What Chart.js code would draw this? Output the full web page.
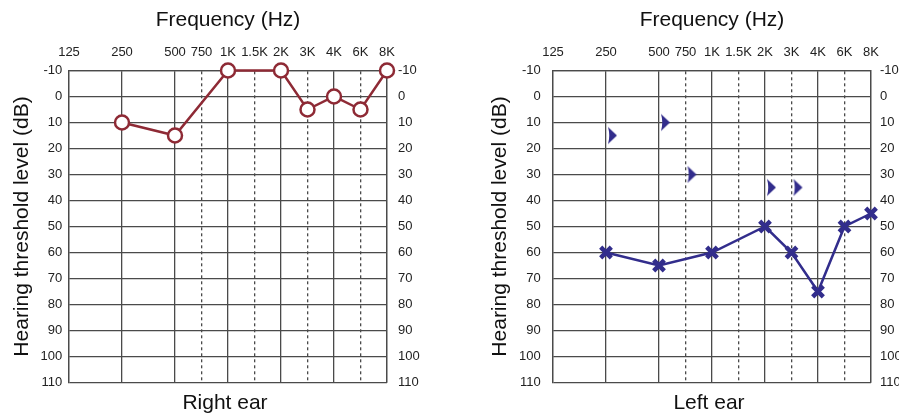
<!DOCTYPE html>
<html>
<head>
<meta charset="utf-8">
<script src="https://cdn.jsdelivr.net/npm/chart.js@4.4.1/dist/chart.umd.min.js"></script>
<style>
  html, body { margin: 0; padding: 0; background: #fff; overflow: hidden; width: 899px; height: 418px; }
  canvas { position: absolute; top: 0; }
  #right { left: 0; }
  #left { left: 484px; }
</style>
</head>
<body>
<canvas id="right" width="450" height="418"></canvas>
<canvas id="left" width="450" height="418"></canvas>
<script>
// audiogram data (dB HL), one entry per frequency, null = not tested
const freqs = [125, 250, 500, 750, 1000, 1500, 2000, 3000, 4000, 6000, 8000];
const freqLabels = ['125', '250', '500', '750', '1K', '1.5K', '2K', '3K', '4K', '6K', '8K'];
const dbTicks = [-10, 0, 10, 20, 30, 40, 50, 60, 70, 80, 90, 100, 110];
const rightAir = [null, 10, 15, null, -10, null, -10, 5, 0, 5, -10];
const leftAir = [null, 60, 65, null, 60, null, 50, 60, 75, 50, 45];
const leftBone = [null, 15, 10, 30, null, null, 35, 35, null, null, null];

const FONT = '"Liberation Sans", Arial, Helvetica, sans-serif';
const GRID = '#4a4a4a';
const RED = '#8e2a35';
const BLUE = '#322d8c';

// octaves two slots apart, half-octaves in the middle
function slot(f) { return Math.round(2 * Math.log2(f / 125)); }

function points(vals) {
  return freqs.map((f, i) => ({ x: slot(f), y: vals[i] })).filter(p => p.y !== null);
}

// bone conduction ">" symbol, sits just right of the frequency line
function chevron(color) {
  const c = document.createElement('canvas');
  c.width = 28; c.height = 22;
  const g = c.getContext('2d');
  g.fillStyle = color;
  g.beginPath();
  g.moveTo(16, 2.5);
  g.lineTo(25, 11);
  g.lineTo(16, 19.5);
  g.quadraticCurveTo(18.5, 11, 16, 2.5);
  g.fill();
  return c;
}

function audiogram(id, ear, datasets, pad) {
  const tickFont = { family: FONT, size: 13 };
  const titleFont = { family: FONT, size: 21, weight: 'normal' };
  const yTicks = s => { s.ticks = dbTicks.map(v => ({ value: v })); };
  return new Chart(document.getElementById(id), {
    type: 'line',
    data: { datasets: datasets },
    options: {
      responsive: false,
      animation: false,
      events: [],
      layout: { padding: 0 },
      plugins: {
        legend: { display: false },
        tooltip: { enabled: false },
        title: {
          display: true, position: 'bottom', text: ear, color: '#111',
          font: titleFont, padding: { top: 7.9, bottom: 2.4 }
        }
      },
      scales: {
        x: {
          type: 'linear', position: 'top', min: 0, max: 12,
          afterBuildTicks: s => { s.ticks = freqs.map(f => ({ value: slot(f) })); },
          afterFit: s => { s.height = 70.5; },
          ticks: {
            autoSkip: false, maxRotation: 0, minRotation: 0, padding: 10.5,
            color: '#222', font: tickFont,
            callback: (v, i) => freqLabels[i]
          },
          grid: { color: GRID, lineWidth: 1.3, drawTicks: false },
          border: {
            color: GRID, width: 1.3,
            dash: ctx => (ctx.tick && ctx.tick.value % 2 === 1) ? [3, 3] : []
          },
          title: {
            display: true, text: 'Frequency (Hz)', color: '#111',
            font: titleFont, padding: { top: 7.4, bottom: 0 }
          }
        },
        y: {
          type: 'linear', position: 'left', reverse: true, min: -10, max: 110,
          afterBuildTicks: yTicks,
          afterFit: s => { s.width = 69; },
          ticks: { padding: pad.yTick, color: '#222', font: tickFont },
          grid: { color: GRID, lineWidth: 1.3, drawTicks: false },
          border: { color: GRID, width: 1.3 },
          title: {
            display: true, text: 'Hearing threshold level (dB)', color: '#111',
            font: titleFont, padding: { top: pad.yTitle, bottom: 0 }
          }
        },
        y2: {
          type: 'linear', position: 'right', reverse: true, min: -10, max: 110,
          afterBuildTicks: yTicks,
          afterFit: s => { s.width = 63; },
          ticks: { padding: pad.y2Tick, color: '#222', font: tickFont },
          grid: { display: false, drawTicks: false },
          border: { color: GRID, width: 1.3 }
        }
      }
    }
  });
}

audiogram('right', 'Right ear', [{
  data: points(rightAir),
  borderColor: RED, borderWidth: 2.5,
  pointStyle: 'circle', pointRadius: 7, pointBorderWidth: 2.5,
  pointBorderColor: RED, pointBackgroundColor: '#fff',
  clip: false
}], { yTick: 6.7, yTitle: 10, y2Tick: 11 });

audiogram('left', 'Left ear', [{
  data: points(leftAir),
  borderColor: BLUE, borderWidth: 2.5,
  pointStyle: 'crossRot', pointRadius: 7.5, pointBorderWidth: 4.5,
  pointBorderColor: BLUE, pointBackgroundColor: BLUE,
  clip: false
}, {
  data: points(leftBone),
  showLine: false,
  pointStyle: chevron(BLUE), pointRadius: 9,
  clip: false
}], { yTick: 12.3, yTitle: 3.4, y2Tick: 9 });
</script>
</body>
</html>
